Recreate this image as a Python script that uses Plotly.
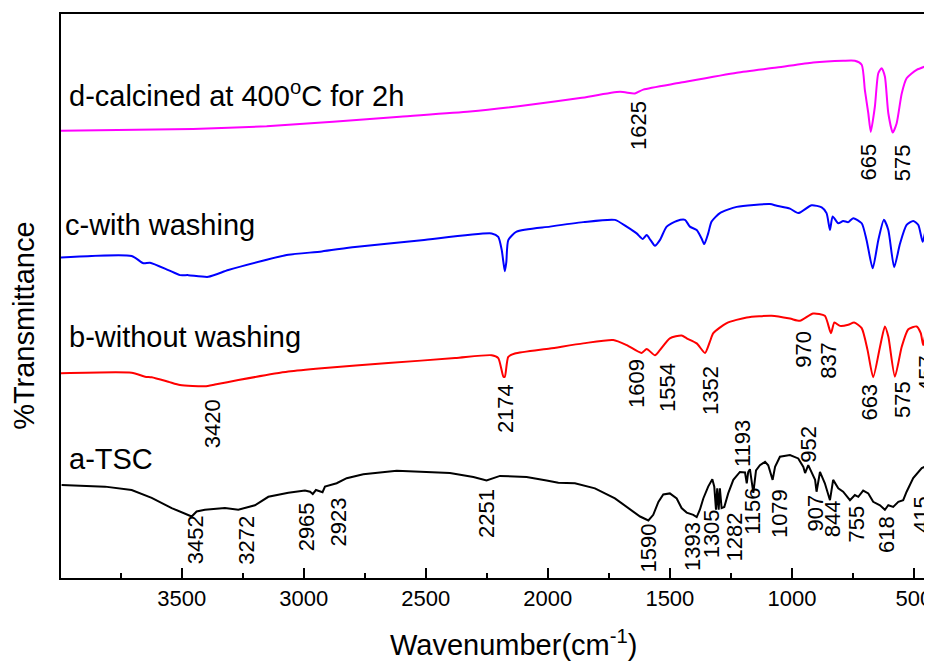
import plotly.graph_objects as go

# ---------------- data (wavenumber cm-1, %T arbitrary offset units) ----------------
a_wn = [3992, 3814, 3705, 3623, 3541, 3459, 3439, 3405, 3323, 3268, 3200, 3145, 3063, 2995,
        2974, 2963, 2950, 2931, 2923, 2913, 2865, 2824, 2756, 2619, 2496, 2401, 2305, 2251,
        2196, 2087, 2005, 1957, 1889, 1807, 1725, 1670, 1622, 1588, 1568, 1547, 1527, 1500,
        1472, 1452, 1431, 1404, 1390, 1377, 1363, 1343, 1326, 1318, 1311, 1306, 1300, 1295,
        1288, 1277, 1261, 1240, 1213, 1192, 1185, 1179, 1172, 1158, 1147, 1131, 1110, 1097,
        1079, 1069, 1049, 1008, 974, 953, 946, 933, 905, 899, 885, 865, 844, 831, 810, 790,
        762, 742, 728, 708, 687, 667, 639, 619, 605, 585, 564, 544, 530, 503, 468, 441, 428, 410]
a_t = [16.5, 16.2, 15.6, 14.2, 12.4, 10.9, 11.8, 12.1, 12.4, 12.1, 12.9, 14.4, 15.1, 15.5,
       15.3, 14.9, 15.6, 15.3, 15.2, 16.2, 16.8, 17.7, 18.4, 19.0, 18.7, 18.6, 17.9, 17.3,
       18.1, 17.9, 17.3, 16.9, 16.8, 15.9, 14.1, 12.4, 10.9, 10.2, 11.2, 13.5, 14.8, 15.0,
       14.1, 12.4, 11.6, 11.2, 10.8, 12.1, 14.1, 16.2, 17.5, 16.2, 12.1, 15.9, 12.1, 15.9,
       12.4, 12.6, 15.0, 17.4, 18.8, 18.7, 16.8, 18.8, 19.3, 15.1, 19.1, 20.0, 20.6, 20.0,
       17.4, 19.7, 21.5, 21.8, 21.2, 19.7, 18.6, 20.0, 17.4, 15.3, 18.8, 16.8, 13.8, 17.4,
       15.9, 15.3, 13.8, 14.7, 14.4, 15.5, 15.0, 13.5, 12.9, 12.1, 12.9, 12.6, 13.5, 13.8,
       15.3, 17.7, 19.5, 20.0, 19.7, 18.0]

b_wn = [3999, 3705, 3650, 3623, 3555, 3507, 3405, 3364, 3268, 3063, 2926, 2654, 2380, 2230,
        2203, 2182, 2176, 2162, 2135, 1991, 1855, 1732, 1677, 1616, 1595, 1561, 1541, 1500,
        1452, 1431, 1390, 1356, 1336, 1322, 1267, 1185, 1083, 1008, 967, 913, 865, 840, 826,
        803, 769, 745, 714, 690, 667, 639, 619, 605, 578, 550, 523, 489, 472, 462, 448, 426]
b_t = [36.3, 36.4, 35.7, 35.6, 34.8, 34.2, 34.0, 34.3, 35.1, 36.6, 37.2, 38.1, 39.0, 39.5,
       39.0, 35.7, 35.7, 39.2, 39.8, 40.7, 41.6, 42.2, 41.3, 39.9, 40.6, 39.5, 40.4, 42.5,
       43.0, 42.5, 41.6, 39.9, 41.9, 43.4, 45.2, 46.2, 46.5, 46.0, 45.6, 46.9, 46.5, 43.4, 45.3,
       44.7, 44.9, 45.3, 44.3, 40.4, 35.6, 41.0, 44.6, 42.8, 35.7, 41.0, 44.1, 44.6, 43.4, 41.3,
       44.0, 44.7]

c_wn = [3999, 3705, 3657, 3630, 3555, 3507, 3473, 3391, 3309, 3172, 3063, 2926, 2790, 2517,
        2230, 2203, 2189, 2182, 2176, 2170, 2162, 2128, 1991, 1855, 1725, 1677, 1636, 1611,
        1595, 1579, 1561, 1541, 1513, 1472, 1438, 1418, 1390, 1370, 1359, 1343, 1329, 1295,
        1226, 1090, 1062, 1008, 974, 919, 878, 858, 844, 833, 810, 790, 769, 749, 714, 694,
        669, 646, 623, 605, 581, 557, 530, 503, 482, 464, 448, 426]
c_t = [56.8, 57.1, 55.8, 55.9, 54.6, 53.7, 53.7, 53.4, 54.6, 56.2, 57.3, 57.9, 58.7, 59.9,
       61.1, 60.5, 58.2, 56.0, 54.4, 56.0, 59.9, 61.4, 62.3, 63.1, 63.5, 62.3, 61.1, 60.1,
       60.8, 59.9, 58.9, 59.9, 62.3, 63.3, 63.5, 62.3, 61.7, 60.2, 59.2, 61.1, 63.2, 64.7,
       65.8, 66.3, 66.0, 65.5, 64.7, 66.1, 65.7, 64.7, 61.7, 64.1, 62.9, 63.3, 63.1, 63.8,
       62.9, 59.9, 54.9, 59.9, 63.5, 61.7, 55.1, 59.3, 62.6, 63.3, 62.6, 59.6, 62.3, 63.4]

d_wn = [3999, 3454, 3152, 2880, 2606, 2319, 2073, 1868, 1704, 1643, 1609, 1459, 1226, 1062,
        913, 790, 742, 714, 701, 687, 677, 660, 646, 632, 619, 605, 587, 571, 550, 530, 489, 434]
d_t = [79.3, 79.6, 80.1, 80.9, 81.8, 82.7, 83.9, 85.1, 86.2, 85.9, 86.6, 87.8, 89.6, 90.5,
       91.4, 91.7, 91.7, 91.0, 86.5, 82.4, 79.1, 83.6, 89.5, 90.4, 88.9, 82.4, 79.0, 80.6,
       85.9, 88.6, 90.1, 91.0]

series_names = ["a-TSC", "b-without washing", "c-with washing",
                "d-calcined at 400<sup>o</sup>C for 2h"]

# peak labels (text) and their placement (wavenumber, %T)
a_peaks = ["3452", "3272", "2965", "2923", "2251", "1590", "1393", "1305", "1282", "1193",
           "1156", "1079", "952", "907", "844", "755", "618", "415"]
a_peak_x = [3445, 3234, 2988, 2856, 2254, 1586, 1405, 1330, 1237, 1203,
            1162, 1053, 930, 902, 834, 735, 615, 468]
a_peak_y = [6.7, 6.7, 9.1, 10.0, 11.5, 5.4, 5.5, 7.8, 7.2, 23.8,
            11.8, 11.5, 23.8, 11.6, 10.5, 9.6, 7.8, 11.3]

b_peaks = ["3420", "2174", "1609", "1554", "1352", "970", "837", "663", "575", "457"]
b_peak_x = [3373, 2176, 1636, 1509, 1336, 954, 848, 680, 550, 448]
b_peak_y = [27.4, 30.1, 34.5, 33.8, 33.3, 40.5, 38.5, 31.1, 31.7, 36.3]

d_peaks = ["1625", "665", "575"]
d_peak_x = [1629, 688, 549]
d_peak_y = [80.2, 73.7, 73.7]

name_x = [3971, 3971, 3988, 3970]
name_y = [21.1, 42.8, 62.6, 85.8]

tick_vals = [3500, 3000, 2500, 2000, 1500, 1000, 500]

# ---------------- figure ----------------
FONT = "Arial, Liberation Sans, sans-serif"
colors = ["#000000", "#ff0000", "#0000ff", "#ff00ff"]

fig = go.Figure()
fig.add_trace(go.Scatter(x=a_wn, y=a_t, mode="lines", line=dict(color=colors[0], width=2),
                         showlegend=False))
for wn, t, col in [(b_wn, b_t, colors[1]), (c_wn, c_t, colors[2]), (d_wn, d_t, colors[3])]:
    fig.add_trace(go.Scatter(x=wn, y=t, mode="lines",
                             line=dict(color=col, width=2, shape="spline", smoothing=0.6),
                             showlegend=False))

annotations = []
for labels, xs, ys in [(a_peaks, a_peak_x, a_peak_y), (b_peaks, b_peak_x, b_peak_y),
                       (d_peaks, d_peak_x, d_peak_y)]:
    for lab, x, y in zip(labels, xs, ys):
        annotations.append(dict(x=x, y=y, xref="x", yref="y", text=lab, textangle=-90,
                                showarrow=False, xanchor="center", yanchor="middle",
                                font=dict(family=FONT, size=22, color="#000000")))
for nm, x, y in zip(series_names, name_x, name_y):
    annotations.append(dict(x=x, y=y, xref="x", yref="y", text=nm, showarrow=False,
                            xanchor="left", yanchor="middle",
                            font=dict(family=FONT, size=29, color="#000000")))
annotations.append(dict(x=0.5195, y=-0.115, xref="paper", yref="paper",
                        text="Wavenumber(cm<sup>-1</sup>)", showarrow=False,
                        xanchor="center", yanchor="middle",
                        font=dict(family=FONT, size=29, color="#000000")))
annotations.append(dict(x=-0.0425, y=0.447, xref="paper", yref="paper",
                        text="%Transmittance", textangle=-90, showarrow=False,
                        xanchor="center", yanchor="middle",
                        font=dict(family=FONT, size=29, color="#000000")))

# the page body adds an 8px offset, so the figure is 8px smaller on each axis
fig.update_layout(
    width=924, height=656,
    margin=dict(l=53, r=0, t=6, b=86, autoexpand=False),
    paper_bgcolor="white", plot_bgcolor="white",
    annotations=annotations,
    xaxis=dict(range=[3994.5, 426], showgrid=False, zeroline=False, automargin=False,
               showline=True, linecolor="black", linewidth=2, mirror=True,
               ticks="inside", ticklen=10, tickwidth=2, tickcolor="black",
               tickvals=tick_vals, ticktext=[str(v) for v in tick_vals],
               ticklabeloverflow="allow",
               tickfont=dict(family=FONT, size=22, color="black"),
               minor=dict(dtick=250, tick0=500, ticks="inside", ticklen=5, tickwidth=2,
                          tickcolor="black", showgrid=False)),
    yaxis=dict(range=[0, 100], showgrid=False, zeroline=False, showticklabels=False,
               automargin=False,
               showline=True, linecolor="black", linewidth=2, ticks=""),
)

fig.write_html("out.html")
